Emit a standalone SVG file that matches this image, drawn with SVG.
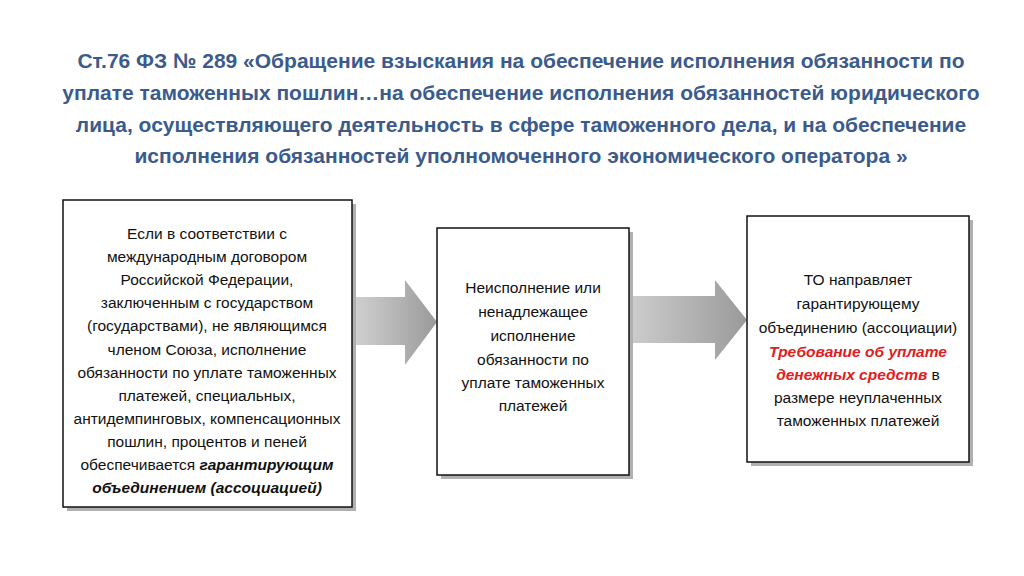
<svg xmlns="http://www.w3.org/2000/svg" width="1024" height="576" viewBox="0 0 1024 576">
<defs>
<linearGradient id="ag" x1="0" y1="0" x2="1" y2="0"><stop offset="0" stop-color="#d0d0d0"/><stop offset="1" stop-color="#9a9a9a"/></linearGradient>
<style>
.t{font-family:"Liberation Sans",Arial,sans-serif;font-weight:bold;font-size:21px;fill:#3b5b8c;text-anchor:middle}
.b{font-family:"Liberation Sans",Arial,sans-serif;font-size:15.5px;fill:#111;text-anchor:middle}
.box{fill:#fff;stroke:#111;stroke-width:1.5}
.sh{fill:#b0b0b0}
.bi{font-weight:bold;font-style:italic}
.r{fill:#e02020}
</style>
</defs>
<rect width="1024" height="576" fill="#fff"/>
<g id="title">
<text class="t" x="521" y="68">Ст.76 ФЗ № 289 «Обращение взыскания на обеспечение исполнения обязанности по</text>
<text class="t" x="521" y="100">уплате таможенных пошлин…на обеспечение исполнения обязанностей юридического</text>
<text class="t" x="521" y="132">лица, осуществляющего деятельность в сфере таможенного дела, и на обеспечение</text>
<text class="t" x="521" y="163">исполнения обязанностей уполномоченного экономического оператора »</text>
</g>
<g id="connectors">
<polygon fill="url(#ag)" points="355,297 405,297 405,280 437,322 405,365 405,345 355,345"/>
<polygon fill="url(#ag)" points="622,296 715,296 715,280 747,320 715,360 715,343 622,343"/>
</g>
<g id="n1">
<rect class="sh" x="67" y="204" width="289" height="307"/>
<rect class="box" x="63" y="200" width="289" height="307"/>
<text class="b" x="207" y="239">Если в соответствии с</text>
<text class="b" x="207" y="262">международным договором</text>
<text class="b" x="207" y="285">Российской Федерации,</text>
<text class="b" x="207" y="308">заключенным с государством</text>
<text class="b" x="207" y="331">(государствами), не являющимся</text>
<text class="b" x="207" y="355">членом Союза, исполнение</text>
<text class="b" x="207" y="378">обязанности по уплате таможенных</text>
<text class="b" x="207" y="401">платежей, специальных,</text>
<text class="b" x="207" y="424">антидемпинговых, компенсационных</text>
<text class="b" x="207" y="447">пошлин, процентов и пеней</text>
<text class="b" x="207" y="470">обеспечивается <tspan class="bi">гарантирующим</tspan></text>
<text class="b bi" x="207" y="493">объединением (ассоциацией)</text>
</g>
<g id="n2">
<rect class="sh" x="441" y="232" width="192" height="247"/>
<rect class="box" x="437" y="228" width="192" height="247"/>
<text class="b" x="533" y="293">Неисполнение или</text>
<text class="b" x="533" y="317">ненадлежащее</text>
<text class="b" x="533" y="341">исполнение</text>
<text class="b" x="533" y="365">обязанности по</text>
<text class="b" x="533" y="388">уплате таможенных</text>
<text class="b" x="533" y="411">платежей</text>
</g>
<g id="n3">
<rect class="sh" x="751" y="220" width="222" height="246"/>
<rect class="box" x="747" y="216" width="222" height="246"/>
<text class="b" x="858" y="285">ТО направляет</text>
<text class="b" x="858" y="309">гарантирующему</text>
<text class="b" x="858" y="333">объединению (ассоциации)</text>
<text class="b bi r" x="858" y="357">Требование об уплате</text>
<text class="b" x="858" y="380"><tspan class="bi r">денежных средств</tspan> в</text>
<text class="b" x="858" y="403">размере неуплаченных</text>
<text class="b" x="858" y="426">таможенных платежей</text>
</g>
</svg>
